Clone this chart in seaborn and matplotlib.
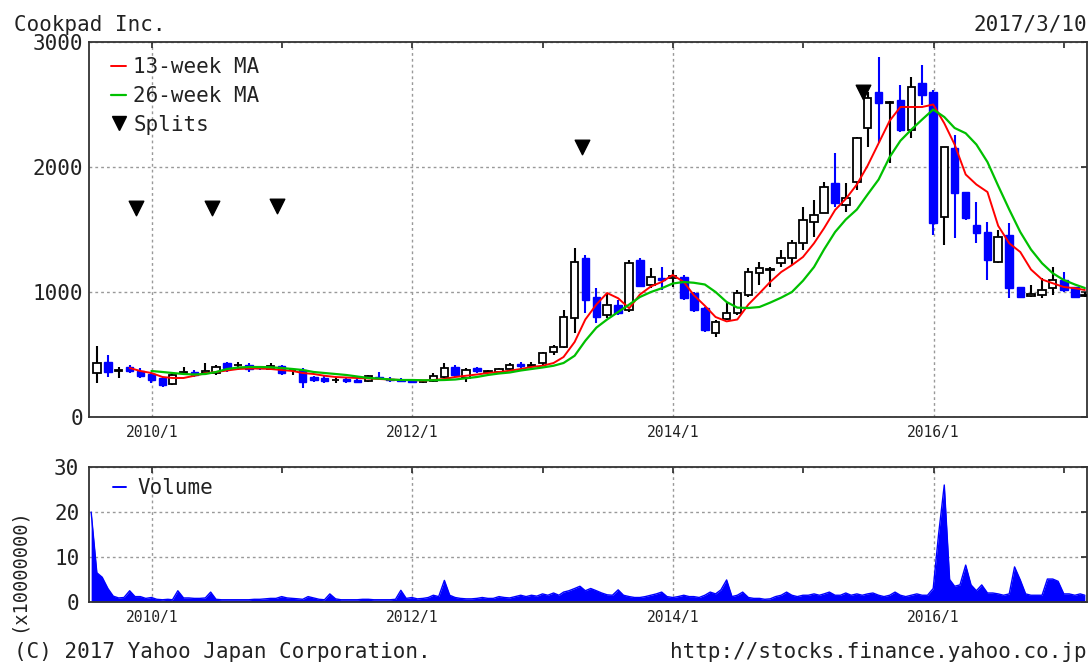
import numpy as np
import pandas as pd
import seaborn as sns
import matplotlib
matplotlib.use("Agg")
from matplotlib import pyplot as plt
import matplotlib.dates as mdates
from matplotlib.lines import Line2D
from matplotlib.ticker import FuncFormatter

# === Data ===
months = pd.date_range("2009-07-31", periods=92, freq="ME")

opens = [352, 440, 372, 400, 370, 344, 312, 264, 356, 360, 350, 352, 432, 416, 420, 400, 384, 408,
         376, 376, 320, 312, 296, 304, 296, 290, 320, 304, 300, 296, 280, 288, 320, 400, 312, 392,
         364, 360, 384, 424, 410, 432, 520, 560, 792, 1272, 960, 816, 896, 856, 1256, 1056, 1112, 1112,
         1120, 992, 872, 672, 784, 832, 976, 1152, 1176, 1232, 1272, 1392, 1560, 1632, 1872, 1696, 1880, 2312,
         2600, 2512, 2536, 2296, 2672, 2600, 1600, 2152, 1800, 1536, 1480, 1240, 1456, 1040, 968, 976,
         1032, 1096, 1040, 968]
highs = [570, 496, 400, 416, 392, 352, 320, 350, 400, 376, 430, 416, 440, 440, 432, 400, 432, 416,
         392, 392, 330, 330, 320, 312, 320, 336, 360, 320, 312, 304, 296, 352, 432, 416, 392, 400,
         376, 392, 432, 440, 440, 520, 576, 856, 1352, 1296, 1032, 992, 936, 1256, 1272, 1192, 1200, 1176,
         1136, 1000, 880, 776, 920, 1016, 1192, 1240, 1200, 1336, 1416, 1680, 1736, 1880, 2112, 1872, 2240, 2600,
         2880, 2528, 2656, 2720, 2816, 2616, 2160, 2256, 1800, 1720, 1560, 1496, 1552, 1040, 1056, 1112,
         1200, 1160, 1040, 1000]
lows = [272, 320, 312, 352, 312, 272, 240, 258, 336, 320, 336, 336, 360, 376, 360, 376, 376, 336,
        336, 232, 280, 272, 272, 272, 272, 280, 296, 280, 280, 272, 272, 280, 312, 320, 280, 352,
        360, 352, 376, 392, 408, 416, 496, 552, 672, 832, 752, 792, 816, 840, 1040, 1032, 1016, 1040,
        936, 840, 680, 640, 776, 816, 960, 1056, 1040, 1200, 1216, 1336, 1440, 1632, 1680, 1640, 1816, 2160,
        2192, 2032, 2280, 2232, 2496, 1456, 1376, 1432, 1576, 1392, 1096, 1232, 952, 952, 960, 952,
        976, 1000, 960, 960]
closes = [430, 360, 376, 368, 330, 296, 256, 336, 360, 336, 368, 400, 392, 420, 384, 392, 408, 352,
          380, 280, 296, 290, 300, 288, 280, 328, 312, 296, 288, 280, 284, 328, 392, 336, 376, 368,
          368, 384, 416, 408, 416, 512, 560, 800, 1240, 936, 800, 896, 832, 1232, 1048, 1120, 1096, 1128,
          952, 856, 696, 760, 832, 992, 1160, 1192, 1184, 1272, 1392, 1576, 1616, 1840, 1712, 1752, 2232, 2552,
          2512, 2520, 2296, 2640, 2576, 1552, 2160, 1792, 1592, 1472, 1256, 1440, 1032, 960, 984, 1016,
          1096, 1016, 960, 976]

nan = np.nan
ma13 = [nan, nan, nan,
        392, 368, 352, 320, 312, 312, 330, 350, 360, 372,
        384, 388, 388, 384, 376, 368, 352, 344, 330, 320,
        316, 312, 308, 304, 300, 296, 296, 292, 296, 304,
        320, 330, 340, 352, 360, 370, 384, 400, 410, 432,
        480, 600, 780, 900, 992, 950, 870, 980, 1045, 1080,
        1136, 1080, 975, 890, 800, 765, 780, 900, 990, 1080,
        1160, 1215, 1280, 1390, 1510, 1656, 1745, 1860, 2010, 2190,
        2370, 2480, 2480, 2480, 2500, 2350, 2180, 1940, 1860, 1800,
        1530, 1390, 1320, 1180, 1100, 1070, 1040, 1030, 1016]
ma26 = [nan, nan, nan, nan, nan,
        368, 360, 352, 344, 340, 344, 360, 384, 396, 400,
        400, 398, 392, 384, 376, 360, 352, 344, 336, 324,
        312, 308, 300, 296, 296, 294, 294, 296, 300, 310,
        320, 336, 348, 356, 372, 384, 396, 410, 432, 490,
        610, 715, 780, 840, 900, 960, 1000, 1030, 1068, 1080,
        1074, 1060, 1000, 920, 875, 872, 880, 915, 955, 1000,
        1090, 1200, 1340, 1480, 1580, 1660, 1780, 1900, 2080, 2210,
        2300, 2380, 2460, 2400, 2312, 2270, 2180, 2040, 1850, 1660,
        1480, 1340, 1230, 1150, 1096, 1060, 1032]

split_dates = pd.to_datetime(["2009-11-19", "2010-06-19", "2010-12-19", "2013-04-20", "2015-06-18"])
split_marks = [1672, 1672, 1688, 2160, 2600]

# volume, x10,000,000 shares, twice a month
vol_dates = pd.date_range("2009-07-15", "2017-02-28", freq="SME")
volume = ([20, 6.5, 5.5, 3.0, 1.3, 0.9, 1.0, 2.5, 1.2, 1.2, 0.8, 1.0]
          + [0.6, 0.5, 0.6, 0.5, 2.5, 0.9, 0.9, 0.8, 0.8, 0.9, 2.2, 0.6,
             0.5, 0.5, 0.5, 0.5, 0.5, 0.5, 0.6, 0.6, 0.7, 0.8, 0.8, 1.2]
          + [0.9, 0.8, 0.7, 0.6, 1.2, 0.9, 0.6, 0.5, 1.8, 0.7, 0.5, 0.5,
             0.5, 0.5, 0.6, 0.6, 0.5, 0.5, 0.5, 0.5, 0.6, 2.6, 0.8, 1.0]
          + [0.7, 0.8, 1.0, 1.5, 1.2, 4.8, 1.5, 1.0, 0.8, 0.7, 0.7, 0.8,
             1.0, 0.8, 0.8, 1.2, 1.0, 0.9, 1.2, 1.5, 1.2, 1.5, 1.3, 1.8]
          + [1.5, 2.0, 1.5, 2.2, 2.5, 3.0, 3.5, 2.5, 3.0, 2.5, 2.0, 1.6,
             1.5, 2.7, 1.5, 1.2, 1.0, 1.0, 1.2, 1.5, 1.8, 2.2, 1.2, 1.0]
          + [1.2, 1.5, 1.2, 1.2, 1.0, 1.5, 2.2, 1.8, 2.7, 4.9, 1.2, 1.5,
             2.2, 1.0, 0.8, 0.8, 0.6, 0.7, 1.2, 1.5, 2.2, 1.5, 1.2, 1.5]
          + [1.5, 1.8, 1.5, 1.8, 2.2, 1.5, 1.5, 2.0, 1.5, 1.8, 1.5, 1.8,
             2.0, 1.5, 1.2, 1.5, 2.2, 1.5, 1.2, 1.5, 1.8, 1.5, 1.5, 3.0]
          + [15.0, 26.0, 5.0, 3.5, 3.8, 8.2, 3.8, 2.5, 3.8, 2.0, 2.0, 1.8,
             1.5, 1.8, 7.8, 4.9, 1.8, 1.5, 1.5, 1.5, 5.1, 5.1, 4.6, 1.8]
          + [1.8, 1.5, 1.8, 1.5])

x_start, x_end = pd.Timestamp("2009-07-09"), pd.Timestamp("2017-03-06")

# === Style ===
sns.set_style("white")
plt.rcParams["font.family"] = ["DejaVu Sans Mono"]
plt.rcParams["font.size"] = 10
FONT_COLOR = "#222222"
BIG = 15  # the wide captions / y labels
GRID_KW = dict(color="#999999", linestyle=(0, (2, 2.2)), linewidth=1)

fig = plt.figure(figsize=(10.89, 6.64), dpi=100)
ax = fig.add_axes([89 / 1089, 247 / 664, 998 / 1089, 375 / 664])
ax_v = fig.add_axes([89 / 1089, 62 / 664, 998 / 1089, 135 / 664])

# === Candles ===
x = mdates.date2num(months)
o, h, l, c = (np.array(a, dtype=float) for a in (opens, highs, lows, closes))
up = c >= o
wick_colors = np.where(up, "black", "#0000ff")
ax.vlines(x, l, h, colors=wick_colors, linewidth=1.5, zorder=2)
ax.bar(x[up], c[up] - o[up], bottom=o[up], width=21, color="white",
       edgecolor="black", linewidth=1.3, zorder=3)
ax.bar(x[~up], o[~up] - c[~up], bottom=c[~up], width=21, color="#0000ff",
       edgecolor="#0000ff", linewidth=1.0, zorder=3)

# moving averages
sns.lineplot(x=months, y=ma13, color="#ff0000", linewidth=1.4, ax=ax, zorder=4)
sns.lineplot(x=months, y=ma26, color="#00c000", linewidth=1.6, ax=ax, zorder=4)

# splits
ax.scatter(split_dates, split_marks, marker="v", s=110, color="black", zorder=5)

# === Volume ===
sns.lineplot(x=vol_dates, y=volume, color="#0000ff", linewidth=1, ax=ax_v)
ax_v.fill_between(vol_dates, 0, volume, color="#0000ff", linewidth=0)

# === Axes cosmetics ===
year_fmt = FuncFormatter(lambda v, _: f"{mdates.num2date(v).year}/{mdates.num2date(v).month}")
for a in (ax, ax_v):
    a.set_xlim(x_start, x_end)
    a.xaxis.set_major_locator(mdates.YearLocator(2))
    a.xaxis.set_minor_locator(mdates.YearLocator(1))
    a.xaxis.set_major_formatter(year_fmt)
    a.tick_params(which="both", direction="in", length=4, width=1.2, top=True, right=True,
                  labelcolor=FONT_COLOR)
    a.tick_params(axis="x", labelsize=10.5, pad=6)
    a.tick_params(axis="y", labelsize=BIG, pad=4)
    a.grid(True, which="major", **GRID_KW)
    a.set_xlabel("")
    a.set_ylabel("")
    for s in a.spines.values():
        s.set_color("#333333")
        s.set_linewidth(1.3)
    a.set_axisbelow(True)

ax.set_ylim(0, 3000)
ax.set_yticks([0, 1000, 2000, 3000])
ax_v.set_ylim(0, 30)
ax_v.set_yticks([0, 10, 20, 30])
ax_v.tick_params(axis="y", pad=7)

# legends
handles = [Line2D([], [], color="#ff0000", lw=1.4),
           Line2D([], [], color="#00c000", lw=1.6),
           Line2D([], [], color="black", marker="v", markersize=10, lw=0)]
ax.legend(handles, ["13-week MA", "26-week MA", "Splits"], loc="upper left",
          bbox_to_anchor=(0.014, 0.982), frameon=False, handlelength=0.7,
          handletextpad=0.35, labelspacing=0.42, borderaxespad=0, fontsize=BIG,
          labelcolor=FONT_COLOR)
ax_v.legend([Line2D([], [], color="#0000ff", lw=1.4)], ["Volume"], loc="upper left",
            bbox_to_anchor=(0.016, 0.98), frameon=False, handlelength=0.6,
            handletextpad=0.55, borderaxespad=0, fontsize=BIG, labelcolor=FONT_COLOR)

# texts around the chart
fig.text(14 / 1089, 1 - 25 / 664, "Cookpad Inc.", fontsize=BIG, va="center", color=FONT_COLOR)
fig.text(1087 / 1089, 1 - 25 / 664, "2017/3/10", fontsize=BIG, va="center", ha="right", color=FONT_COLOR)
fig.text(14 / 1089, 1 - 652 / 664, "(C) 2017 Yahoo Japan Corporation.", fontsize=BIG, va="center",
         color=FONT_COLOR)
fig.text(1087 / 1089, 1 - 652 / 664, "http://stocks.finance.yahoo.co.jp", fontsize=BIG, va="center",
         ha="right", color=FONT_COLOR)
fig.text(18 / 1089, 1 - 570 / 664, "(x10000000)", fontsize=13.5, va="center", ha="center",
         rotation=90, color=FONT_COLOR)

fig.savefig("out.png", dpi=100)
